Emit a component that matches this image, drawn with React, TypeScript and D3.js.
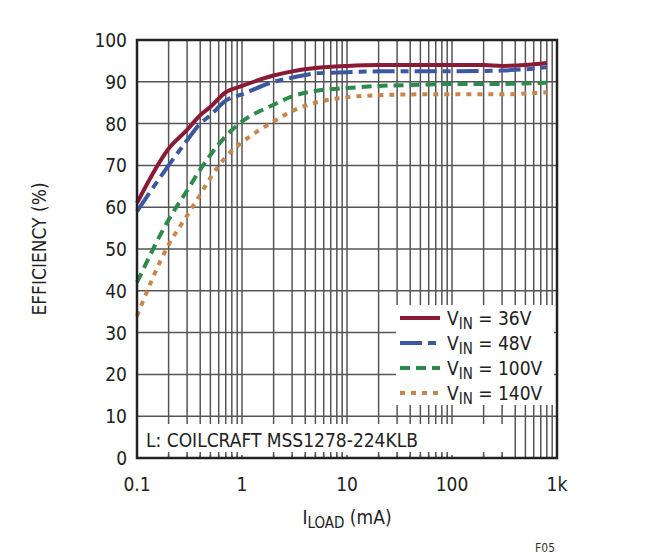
import React from "react";
import * as d3 from "d3";

const loads = [0.1, 0.2, 0.3, 0.4, 0.5, 0.7, 1, 2, 3, 5, 10, 20, 50, 100, 200, 300, 500, 800];
const eff36 = [61, 74, 78.5, 82, 84, 87.5, 89, 91.5, 92.5, 93.3, 93.8, 94, 94, 94, 94, 93.8, 94, 94.5];
const eff48 = [59, 70, 76, 80, 82, 85.5, 87, 90, 91, 92, 92.3, 92.5, 92.5, 92.5, 92.6, 92.7, 93, 93.5];
const eff100 = [42, 57, 64, 69, 72.5, 77, 80.5, 84.5, 86.5, 87.8, 88.5, 89, 89.3, 89.5, 89.5, 89.5, 89.6, 89.8];
const eff140 = [34, 51, 58, 63, 67, 72, 75.5, 80.5, 83, 85, 86.3, 86.8, 87, 87, 87, 87, 87.2, 87.5];
const yTicks = [0, 10, 20, 30, 40, 50, 60, 70, 80, 90, 100];
const xTickVals = [0.1, 1, 10, 100, 1000];
const xTickLabels = ["0.1", "1", "10", "100", "1k"];
const seriesNames = ["36V", "48V", "100V", "140V"];

const series = [
  { name: seriesNames[0], vals: eff36, color: "#8b1a35", dash: "" },
  { name: seriesNames[1], vals: eff48, color: "#3b58a0", dash: "22,6,8,6" },
  { name: seriesNames[2], vals: eff100, color: "#2e8a4a", dash: "10,6" },
  { name: seriesNames[3], vals: eff140, color: "#c8864a", dash: "5,6" },
];

export default function App() {
  const L = 137, R = 557, T = 40, B = 458;
  const x = d3.scaleLog().domain([0.1, 1000]).range([L, R]);
  const y = d3.scaleLinear().domain([0, 100]).range([B, T]);
  const minors: number[] = [];
  for (let d = 0.1; d < 1000; d *= 10) for (let k = 2; k <= 9; k++) minors.push(d * k);
  const line = d3.line<number>().x((_, i) => x(loads[i])).y((v) => y(v)).curve(d3.curveMonotoneX);
  const font = "'DejaVu Sans Condensed', 'Liberation Sans Narrow', 'Liberation Sans', Arial, sans-serif";
  const lx = 396, ly = 305;
  return (
    <svg width={650} height={559} style={{ position: "absolute", left: 0, top: 0, background: "#fff" }} fontFamily={font} fontStretch="condensed">
      <g stroke="#555" strokeWidth={1.5}>
        {[...minors, ...xTickVals].map((v, i) => (
          <line key={"x" + i} x1={x(v)} x2={x(v)} y1={T} y2={B} />
        ))}
        {yTicks.map((v) => (
          <line key={"y" + v} x1={L} x2={R} y1={y(v)} y2={y(v)} />
        ))}
      </g>
      <rect x={lx} y={ly} width={R - lx - 3} height={100} fill="#fff" />
      <rect x={L + 3} y={424} width={368} height={31} fill="#fff" />
      <g stroke="#555" strokeWidth={1.5}>
        {minors.filter((v) => x(v) > L + 3 && x(v) < L + 371).map((v, i) => (
          <line key={"mb" + i} x1={x(v)} x2={x(v)} y1={B - 6} y2={B} />
        ))}
      </g>
      {series.map((s) => (
        <path key={s.name} d={line(s.vals) || ""} fill="none" stroke={s.color} strokeWidth={4} strokeDasharray={s.dash} />
      ))}
      <rect x={L} y={T} width={R - L} height={B - T} fill="none" stroke="#222" strokeWidth={2.5} />
      {series.map((s, i) => {
        const yy = 318 + i * 25;
        return (
          <g key={"lg" + s.name}>
            <line x1={400} x2={440} y1={yy} y2={yy} stroke={s.color} strokeWidth={4} strokeDasharray={s.dash} />
            <text x={447} y={yy + 7} fontSize={19} fill="#222">
              V<tspan fontSize={15} dy={4}>IN</tspan><tspan dy={-4}> = {s.name}</tspan>
            </text>
          </g>
        );
      })}
      <text x={146} y={447} fontSize={19} fill="#222">L: COILCRAFT MSS1278-224KLB</text>
      {yTicks.map((v) => (
        <text key={"yl" + v} x={L - 10} y={y(v) + 7} fontSize={19} textAnchor="end" fill="#222">{v}</text>
      ))}
      {xTickVals.map((v, i) => (
        <text key={"xl" + v} x={x(v)} y={491} fontSize={19} textAnchor="middle" fill="#222">{xTickLabels[i]}</text>
      ))}
      <text x={347} y={524} fontSize={19} textAnchor="middle" fill="#222">
        I<tspan fontSize={15} dy={4}>LOAD</tspan><tspan dy={-4}> (mA)</tspan>
      </text>
      <text transform="translate(46,249) rotate(-90)" fontSize={19} textAnchor="middle" fill="#222">EFFICIENCY (%)</text>
      <text x={555} y={552} fontSize={12} textAnchor="end" fill="#333">F05</text>
    </svg>
  );
}
